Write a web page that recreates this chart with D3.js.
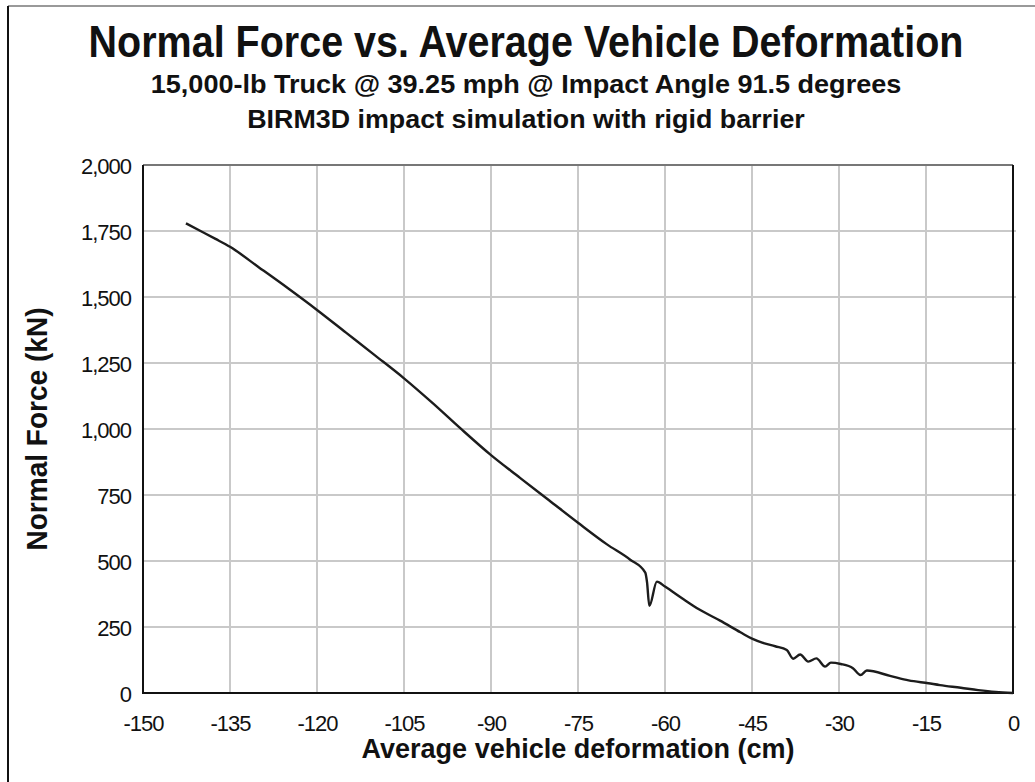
<!DOCTYPE html>
<html>
<head>
<meta charset="utf-8">
<script src="https://cdn.jsdelivr.net/npm/d3@7"></script>
<style>
  html, body { margin: 0; padding: 0; background: #fff; }
  svg { display: block; }
  text { font-family: "Liberation Sans", Arial, sans-serif; fill: #111; }
</style>
</head>
<body>
<svg id="chart" width="1035" height="782"></svg>
<script>
// data
const deformation = [-142.6, -140, -137.5, -135, -130, -125, -120, -115, -110, -105, -100, -95.3, -90,
    -85, -80, -75, -70, -66, -63.4, -63.1, -62.7, -61.4, -60, -57, -54, -50.5, -47, -45, -43, -41,
    -39, -37.9, -36.7, -35.3, -33.9, -32.4, -31.4, -29.7, -27.6, -26.3, -25.2, -21.2, -18, -14.6,
    -12.6, -9, -6, -3, 0];
const normalForce = [1779, 1749, 1720, 1690, 1612, 1533, 1451, 1365, 1279, 1192, 1097, 1003, 901,
    815, 730, 645, 563, 505, 456, 420, 330, 422, 403, 358, 315, 274, 230, 206, 189, 177,
    163, 130, 146, 119, 131, 100, 115, 110, 94, 68, 85, 65, 48, 37,
    30, 20, 11, 4, 0];
const xTicks = [-150, -135, -120, -105, -90, -75, -60, -45, -30, -15, 0];
const yTicks = [0, 250, 500, 750, 1000, 1250, 1500, 1750, 2000];
const titleLines = [
    "Normal Force vs. Average Vehicle Deformation",
    "15,000-lb Truck @ 39.25 mph @ Impact Angle 91.5 degrees",
    "BIRM3D impact simulation with rigid barrier"
];
const xTitle = "Average vehicle deformation (cm)";
const yTitle = "Normal Force (kN)";

const svg = d3.select("#chart");
const margin = { top: 165, right: 22, bottom: 89, left: 143 };
const width = 1035, height = 782;
const chartW = width - margin.left - margin.right;
const chartH = height - margin.top - margin.bottom;

const x = d3.scaleLinear().domain([-150, 0]).range([margin.left, margin.left + chartW]);
const y = d3.scaleLinear().domain([0, 2000]).range([margin.top + chartH, margin.top]);

// outer page frame
svg.append("line")
    .attr("x1", 8).attr("x2", width).attr("y1", 6).attr("y2", 6)
    .attr("stroke", "#999").attr("stroke-width", 2);
svg.append("line")
    .attr("x1", 8).attr("x2", 8).attr("y1", 6).attr("y2", height)
    .attr("stroke", "#111").attr("stroke-width", 2);

// titles - the original face is condensed, so fit each line to its measured width
const titleSpecs = [
    { y: 57, size: 45, len: 875 },
    { y: 93, size: 26, len: 751 },
    { y: 128, size: 26, len: 558 }
];
svg.selectAll("text.title")
    .data(titleLines)
    .join("text")
        .attr("class", "title")
        .attr("text-anchor", "middle")
        .attr("font-size", (d, i) => titleSpecs[i].size)
        .attr("font-weight", "bold")
        .text(d => d)
        .attr("transform", function(d, i){
            const sx = titleSpecs[i].len / this.getComputedTextLength();
            return `translate(526,${titleSpecs[i].y}) scale(${sx},1)`;
        });

// grid
const grid = svg.append("g").attr("stroke", "#c9c9c9").attr("stroke-width", 2);
grid.selectAll("line.vx")
    .data(xTicks.slice(1, -1))
    .join("line")
        .attr("x1", d => x(d)).attr("x2", d => x(d))
        .attr("y1", y(2000)).attr("y2", y(0));
grid.selectAll("line.hy")
    .data(yTicks.slice(1, -1))
    .join("line")
        .attr("x1", x(-150)).attr("x2", x(0) + 3)
        .attr("y1", d => y(d)).attr("y2", d => y(d));

// plot frame
svg.append("line")
    .attr("x1", x(-150)).attr("x2", x(0)).attr("y1", y(2000)).attr("y2", y(2000))
    .attr("stroke", "#777").attr("stroke-width", 2);
svg.append("path")
    .attr("d", `M${x(0)},${y(2000)}V${y(0)}H${x(-150)}V${y(2000)}`)
    .attr("fill", "none").attr("stroke", "#111").attr("stroke-width", 2);

// axes (labels only, no tick marks)
const xAxis = svg.append("g")
    .attr("transform", `translate(0,${y(0)})`)
    .call(d3.axisBottom(x).tickValues(xTicks).tickSize(0).tickPadding(0).tickFormat(d => String(d)));
xAxis.select(".domain").remove();
xAxis.selectAll("text")
    .attr("y", 38).attr("dy", null)
    .attr("font-size", 22).attr("letter-spacing", -1)
    .attr("fill", "#111");

const yAxis = svg.append("g")
    .attr("transform", `translate(${x(-150)},0)`)
    .call(d3.axisLeft(y).tickValues(yTicks).tickSize(0).tickPadding(12).tickFormat(d3.format(",")));
yAxis.select(".domain").remove();
yAxis.selectAll("text")
    .attr("dy", "0.38em")
    .attr("font-size", 22).attr("letter-spacing", -1)
    .attr("fill", "#111");
// let the css font apply instead of the axis default
xAxis.attr("font-family", null).attr("font-size", null);
yAxis.attr("font-family", null).attr("font-size", null);

// axis titles
svg.append("text")
    .attr("x", x(-75)).attr("y", 758)
    .attr("text-anchor", "middle")
    .attr("font-size", 27).attr("font-weight", "bold")
    .attr("textLength", 433).attr("lengthAdjust", "spacingAndGlyphs")
    .text(xTitle);
svg.append("text")
    .attr("transform", `translate(47,${y(1000)}) rotate(-90)`)
    .attr("text-anchor", "middle")
    .attr("font-size", 29).attr("font-weight", "bold")
    .attr("textLength", 243).attr("lengthAdjust", "spacingAndGlyphs")
    .text(yTitle);

// curve
const pts = deformation.map((d, i) => [d, normalForce[i]]);
svg.append("path")
    .datum(pts)
    .attr("fill", "none")
    .attr("stroke", "#1c1c1c")
    .attr("stroke-width", 2.4)
    .attr("stroke-linejoin", "round")
    .attr("d", d3.line().curve(d3.curveMonotoneX).x(d => x(d[0])).y(d => y(d[1])));
</script>
</body>
</html>
